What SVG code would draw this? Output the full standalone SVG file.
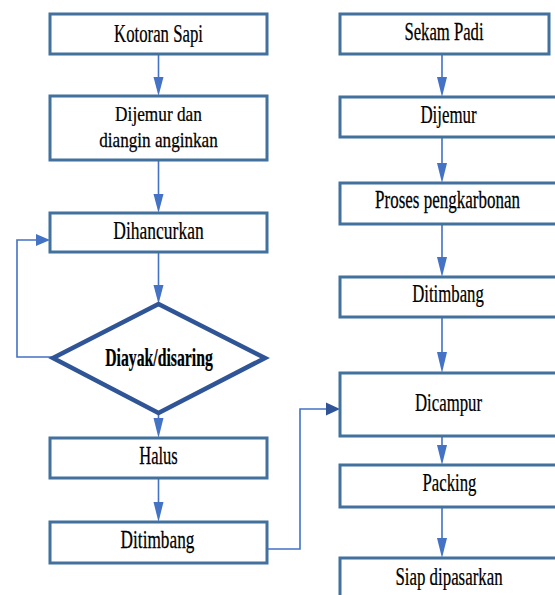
<svg xmlns="http://www.w3.org/2000/svg" width="555" height="595" viewBox="0 0 555 595">
<style>
.box{fill:#fff;stroke:#41719c;stroke-width:3}
.dia{fill:#fff;stroke:#2f5597;stroke-width:4.5;stroke-linejoin:miter}
text{font-family:'Liberation Serif','Times New Roman',serif;font-size:25px;fill:#000;stroke:#000;stroke-width:0.25;text-anchor:middle}
.b{font-weight:bold}
.sm{font-size:22px}
.ln{fill:none;stroke:#4472c4;stroke-width:1.6}
.hd{fill:#4472c4}
.hd2{fill:#2f5597}
</style>
<rect width="555" height="595" fill="#fff"/>
<g id="connectors">
<path class="ln" d="M158.5 54V80M158.5 160V198M158.5 252V288M158.5 414V420M158.5 478V504"/>
<path class="ln" d="M442 54V80M442 137V166M442 224V259M442 317V355M442 436V448M442 507V541"/>
<path class="ln" d="M53 357H17V240H38"/>
<path class="ln" d="M267 549H300V409H328"/>
<polygon class="hd" points="153.5,77 163.5,77 158.5,96"/>
<polygon class="hd" points="153.5,194 163.5,194 158.5,213"/>
<polygon class="hd" points="153.5,285 163.5,285 158.5,304"/>
<polygon class="hd" points="153.5,418 163.5,418 158.5,438"/>
<polygon class="hd" points="153.5,502 163.5,502 158.5,522"/>
<polygon class="hd" points="437,77 447,77 442,97"/>
<polygon class="hd" points="437,163 447,163 442,183"/>
<polygon class="hd" points="437,257 447,257 442,277"/>
<polygon class="hd" points="437,352 447,352 442,373"/>
<polygon class="hd" points="437,445 447,445 442,465"/>
<polygon class="hd" points="437,538 447,538 442,558"/>
<polygon class="hd" points="36,234 50,240 36,246"/>
<polygon class="hd2" points="326,402.5 340,409 326,415.5"/>
</g>
<g id="kotoran-sapi"><rect class="box" x="50" y="14" width="217" height="40"/><text transform="translate(158.5,42) scale(0.67,1)">Kotoran Sapi</text></g>
<g id="dijemur-dan"><rect class="box" x="50" y="96" width="217" height="64"/><text class="sm" transform="translate(158.5,121) scale(0.785,1)">Dijemur dan</text><text class="sm" transform="translate(158.5,147) scale(0.78,1)">diangin anginkan</text></g>
<g id="dihancurkan"><rect class="box" x="50" y="213" width="217" height="39"/><text transform="translate(158.5,239) scale(0.7,1)">Dihancurkan</text></g>
<g id="diayak"><polygon class="dia" points="158.5,304 265,358 158.5,413 53,358"/><text class="b" transform="translate(159,366) scale(0.63,1)">Diayak/disaring</text></g>
<g id="halus"><rect class="box" x="50" y="438" width="217" height="40"/><text transform="translate(158.5,464) scale(0.66,1)">Halus</text></g>
<g id="ditimbang-1"><rect class="box" x="50" y="522" width="217" height="41"/><text transform="translate(157.5,548) scale(0.69,1)">Ditimbang</text></g>
<g id="sekam-padi"><rect class="box" x="340" y="14" width="209" height="40"/><text transform="translate(444,40) scale(0.667,1)">Sekam Padi</text></g>
<g id="dijemur"><rect class="box" x="340" y="97" width="225" height="40"/><text transform="translate(448.5,123) scale(0.675,1)">Dijemur</text></g>
<g id="proses-pengkarbonan"><rect class="box" x="340" y="183" width="225" height="41"/><text transform="translate(447.5,208) scale(0.68,1)">Proses pengkarbonan</text></g>
<g id="ditimbang-2"><rect class="box" x="340" y="277" width="225" height="40"/><text transform="translate(448,302) scale(0.67,1)">Ditimbang</text></g>
<g id="dicampur"><rect class="box" x="340" y="373" width="225" height="63"/><text transform="translate(448.5,411) scale(0.67,1)">Dicampur</text></g>
<g id="packing"><rect class="box" x="340" y="465" width="225" height="42"/><text transform="translate(449.5,491) scale(0.67,1)">Packing</text></g>
<g id="siap-dipasarkan"><rect class="box" x="340" y="558" width="225" height="50"/><text transform="translate(449,585) scale(0.675,1)">Siap dipasarkan</text></g>
</svg>
